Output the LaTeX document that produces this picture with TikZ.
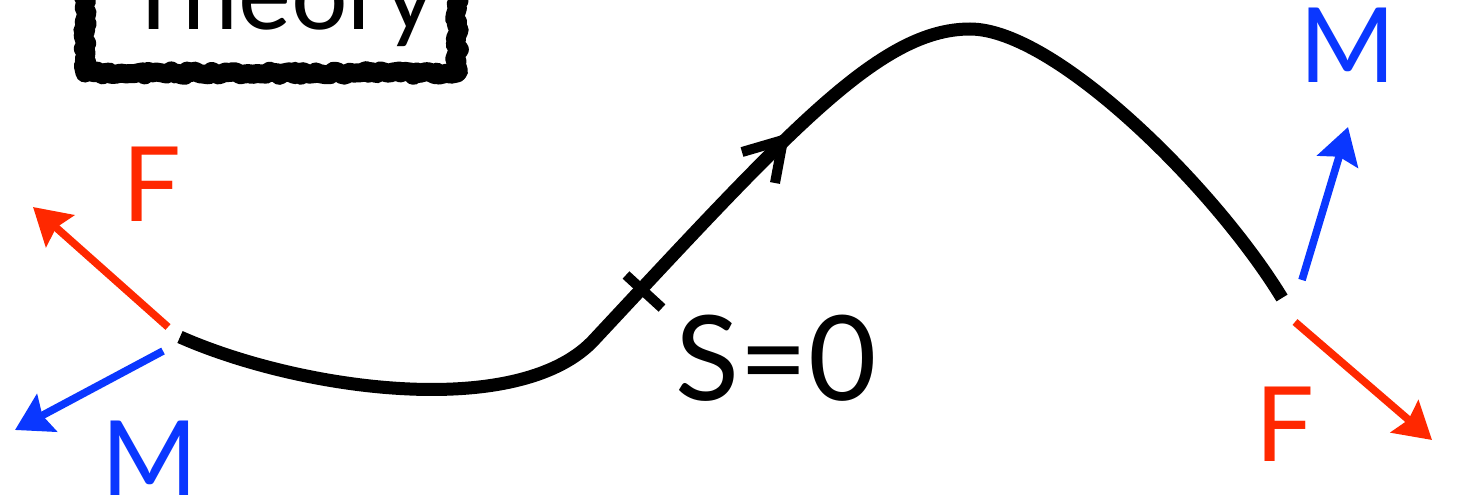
\documentclass[tikz,border=0pt]{standalone}
\usepackage{fontspec}
\setmainfont{Lato}
\usetikzlibrary{arrows.meta,decorations.pathmorphing}
\definecolor{fred}{RGB}{255,40,0}
\definecolor{fblue}{RGB}{10,55,255}
\tikzset{
  beam/.style={line width=6.5pt, line cap=butt, draw=black},
  tickmark/.style={line width=5pt, draw=black},
  barb/.style={line width=5pt, draw=black, line join=miter},
  force/.style={draw=fred, line width=3.8pt, -{Stealth[length=18pt,width=21pt,inset=2.5pt]}},
  moment/.style={draw=fblue, line width=3.8pt, -{Stealth[length=18pt,width=21pt,inset=2.5pt]}},
  flabel/.style={text=fred, font=\fontsize{52}{52}\selectfont, inner sep=0pt},
  mlabel/.style={text=fblue, font=\fontsize{52}{52}\selectfont, inner sep=0pt},
  roughbox/.style={draw=black, line width=9.5pt, line join=round, line cap=round, decorate, decoration={random steps, segment length=2pt, amplitude=1.2pt}},
}
\begin{document}
\begin{tikzpicture}[x=0.5pt,y=-0.5pt]
\useasboundingbox (0,0) rectangle (1457,503);
\clip (0,0) rectangle (1457,503);
% title box
\draw[roughbox] (85,-60) -- (85,73) -- (457,73) -- (457,-60);
\node[inner sep=0pt, anchor=base, font=\fontsize{50}{50}\selectfont] (title) at (280,29) {Theory};
% beam curve
\coordinate (a) at (180,337);
\coordinate (b) at (592,342);
\coordinate (c) at (970,29);
\coordinate (d) at (1282,298);
\draw[beam] (a) .. controls (300,390) and (515,420) .. (b)
            .. controls (790,130) and (880,29) .. (c)
            .. controls (1055,29) and (1215,188) .. (d);
% tick mark at S=0
\coordinate (t1) at (626,275);
\coordinate (t2) at (662,308);
\draw[tickmark] (t1) -- (t2);
% direction arrow on curve
\coordinate (h1) at (742,152);
\coordinate (htip) at (783,140);
\coordinate (h2) at (775,183);
\draw[barb] (h1) -- (htip) -- (h2);
\node[inner sep=0pt, font=\fontsize{59}{59}\selectfont] (s0) at (776,358) {S=0};
% left end loads
\coordinate (fLs) at (168,327);
\coordinate (fLe) at (33,207);
\draw[force] (fLs) -- (fLe);
\coordinate (mLs) at (163,351);
\coordinate (mLe) at (15,430);
\draw[moment] (mLs) -- (mLe);
\node[flabel] (FL) at (152,184) {F};
\node[mlabel] (ML) at (150,458) {M};
% right end loads
\coordinate (mRs) at (1302,280);
\coordinate (mRe) at (1348,127);
\draw[moment] (mRs) -- (mRe);
\coordinate (fRs) at (1295,322);
\coordinate (fRe) at (1432,440);
\draw[force] (fRs) -- (fRe);
\node[mlabel] (MR) at (1348,45) {M};
\node[flabel] (FR) at (1285,424) {F};
\end{tikzpicture}
\end{document}
